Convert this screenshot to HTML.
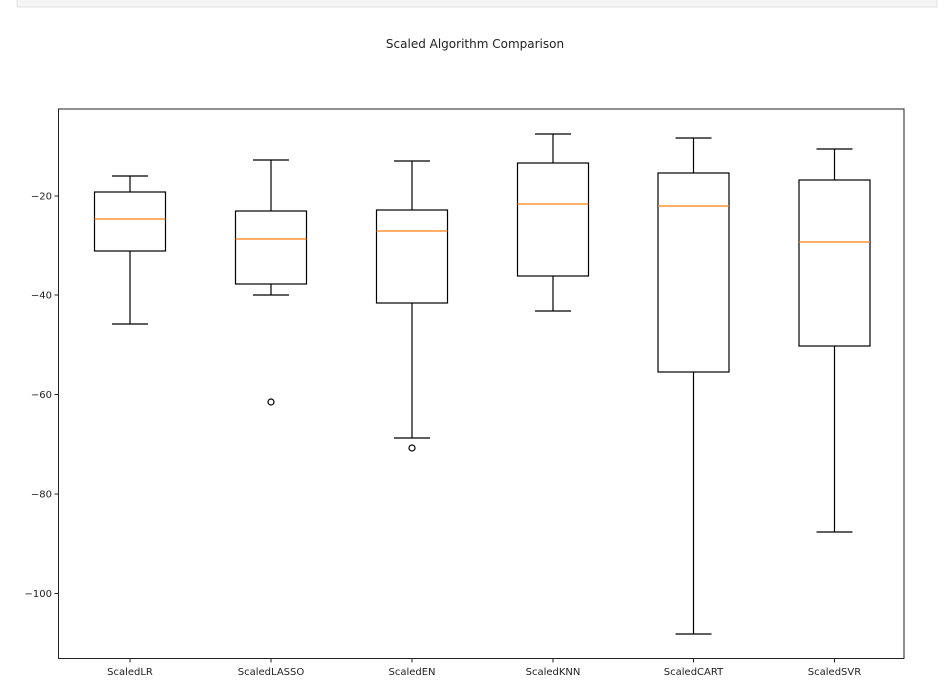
<!DOCTYPE html>
<html><head><meta charset="utf-8"><style>
body{margin:0;background:#fff;width:947px;height:693px;overflow:hidden}
svg{display:block;font-family:"DejaVu Sans","Liberation Sans",sans-serif}
</style></head><body>
<svg width="947" height="693" viewBox="0 0 947 693">
<rect x="17" y="-1" width="920" height="8" fill="#f5f5f5" stroke="#e2e2e2"/>
<text x="475" y="48" font-size="12" text-anchor="middle" fill="#222">Scaled Algorithm Comparison</text>
<g stroke="#000" stroke-width="1.2" fill="none">
<!-- LR -->
<line x1="130" x2="130" y1="176" y2="192"/><line x1="130" x2="130" y1="251" y2="324"/>
<line x1="112" x2="148" y1="176" y2="176"/><line x1="112" x2="148" y1="324" y2="324"/>
<rect x="94.5" y="192" width="71" height="59"/>
<!-- LASSO -->
<line x1="271" x2="271" y1="160" y2="211"/><line x1="271" x2="271" y1="284" y2="295"/>
<line x1="253" x2="289" y1="160" y2="160"/><line x1="253" x2="289" y1="295" y2="295"/>
<rect x="235.5" y="211" width="71" height="73"/>
<circle cx="271" cy="402" r="3"/>
<!-- EN -->
<line x1="412" x2="412" y1="161" y2="210"/><line x1="412" x2="412" y1="303" y2="438"/>
<line x1="394" x2="430" y1="161" y2="161"/><line x1="394" x2="430" y1="438" y2="438"/>
<rect x="376.5" y="210" width="71" height="93"/>
<circle cx="412" cy="448" r="3"/>
<!-- KNN -->
<line x1="553" x2="553" y1="134" y2="163"/><line x1="553" x2="553" y1="276" y2="311"/>
<line x1="535" x2="571" y1="134" y2="134"/><line x1="535" x2="571" y1="311" y2="311"/>
<rect x="517.5" y="163" width="71" height="113"/>
<!-- CART -->
<line x1="693.5" x2="693.5" y1="138" y2="173"/><line x1="693.5" x2="693.5" y1="372" y2="634"/>
<line x1="675.5" x2="711.5" y1="138" y2="138"/><line x1="675.5" x2="711.5" y1="634" y2="634"/>
<rect x="658" y="173" width="71" height="199"/>
<!-- SVR -->
<line x1="834.5" x2="834.5" y1="149" y2="180"/><line x1="834.5" x2="834.5" y1="346" y2="532"/>
<line x1="816.5" x2="852.5" y1="149" y2="149"/><line x1="816.5" x2="852.5" y1="532" y2="532"/>
<rect x="799" y="180" width="71" height="166"/>
</g>
<g stroke="#ff7f0e" stroke-width="1.2">
<line x1="94.5" x2="165.5" y1="219" y2="219"/>
<line x1="235.5" x2="306.5" y1="239" y2="239"/>
<line x1="376.5" x2="447.5" y1="231" y2="231"/>
<line x1="517.5" x2="588.5" y1="204" y2="204"/>
<line x1="658" x2="729" y1="206" y2="206"/>
<line x1="799" x2="870" y1="242" y2="242"/>
</g>
<rect x="58.5" y="109" width="845.5" height="549.5" fill="none" stroke="#222" stroke-width="1"/>
<g stroke="#222">
<line x1="54.5" x2="58.5" y1="196" y2="196"/><line x1="54.5" x2="58.5" y1="295" y2="295"/>
<line x1="54.5" x2="58.5" y1="394.5" y2="394.5"/><line x1="54.5" x2="58.5" y1="494" y2="494"/>
<line x1="54.5" x2="58.5" y1="593.5" y2="593.5"/>
<line x1="130" x2="130" y1="658.5" y2="662.5"/><line x1="271" x2="271" y1="658.5" y2="662.5"/>
<line x1="412" x2="412" y1="658.5" y2="662.5"/><line x1="553" x2="553" y1="658.5" y2="662.5"/>
<line x1="693.5" x2="693.5" y1="658.5" y2="662.5"/><line x1="834.5" x2="834.5" y1="658.5" y2="662.5"/>
</g>
<g font-size="10" fill="#222" text-anchor="end">
<text x="52" y="199.5">−20</text>
<text x="52" y="298.5">−40</text>
<text x="52" y="398">−60</text>
<text x="52" y="497.5">−80</text>
<text x="52" y="597">−100</text>
</g>
<g font-size="10" fill="#222" text-anchor="middle">
<text x="130" y="675">ScaledLR</text>
<text x="271" y="675">ScaledLASSO</text>
<text x="412" y="675">ScaledEN</text>
<text x="553" y="675">ScaledKNN</text>
<text x="693.5" y="675">ScaledCART</text>
<text x="834.5" y="675">ScaledSVR</text>
</g>
</svg>
</body></html>
